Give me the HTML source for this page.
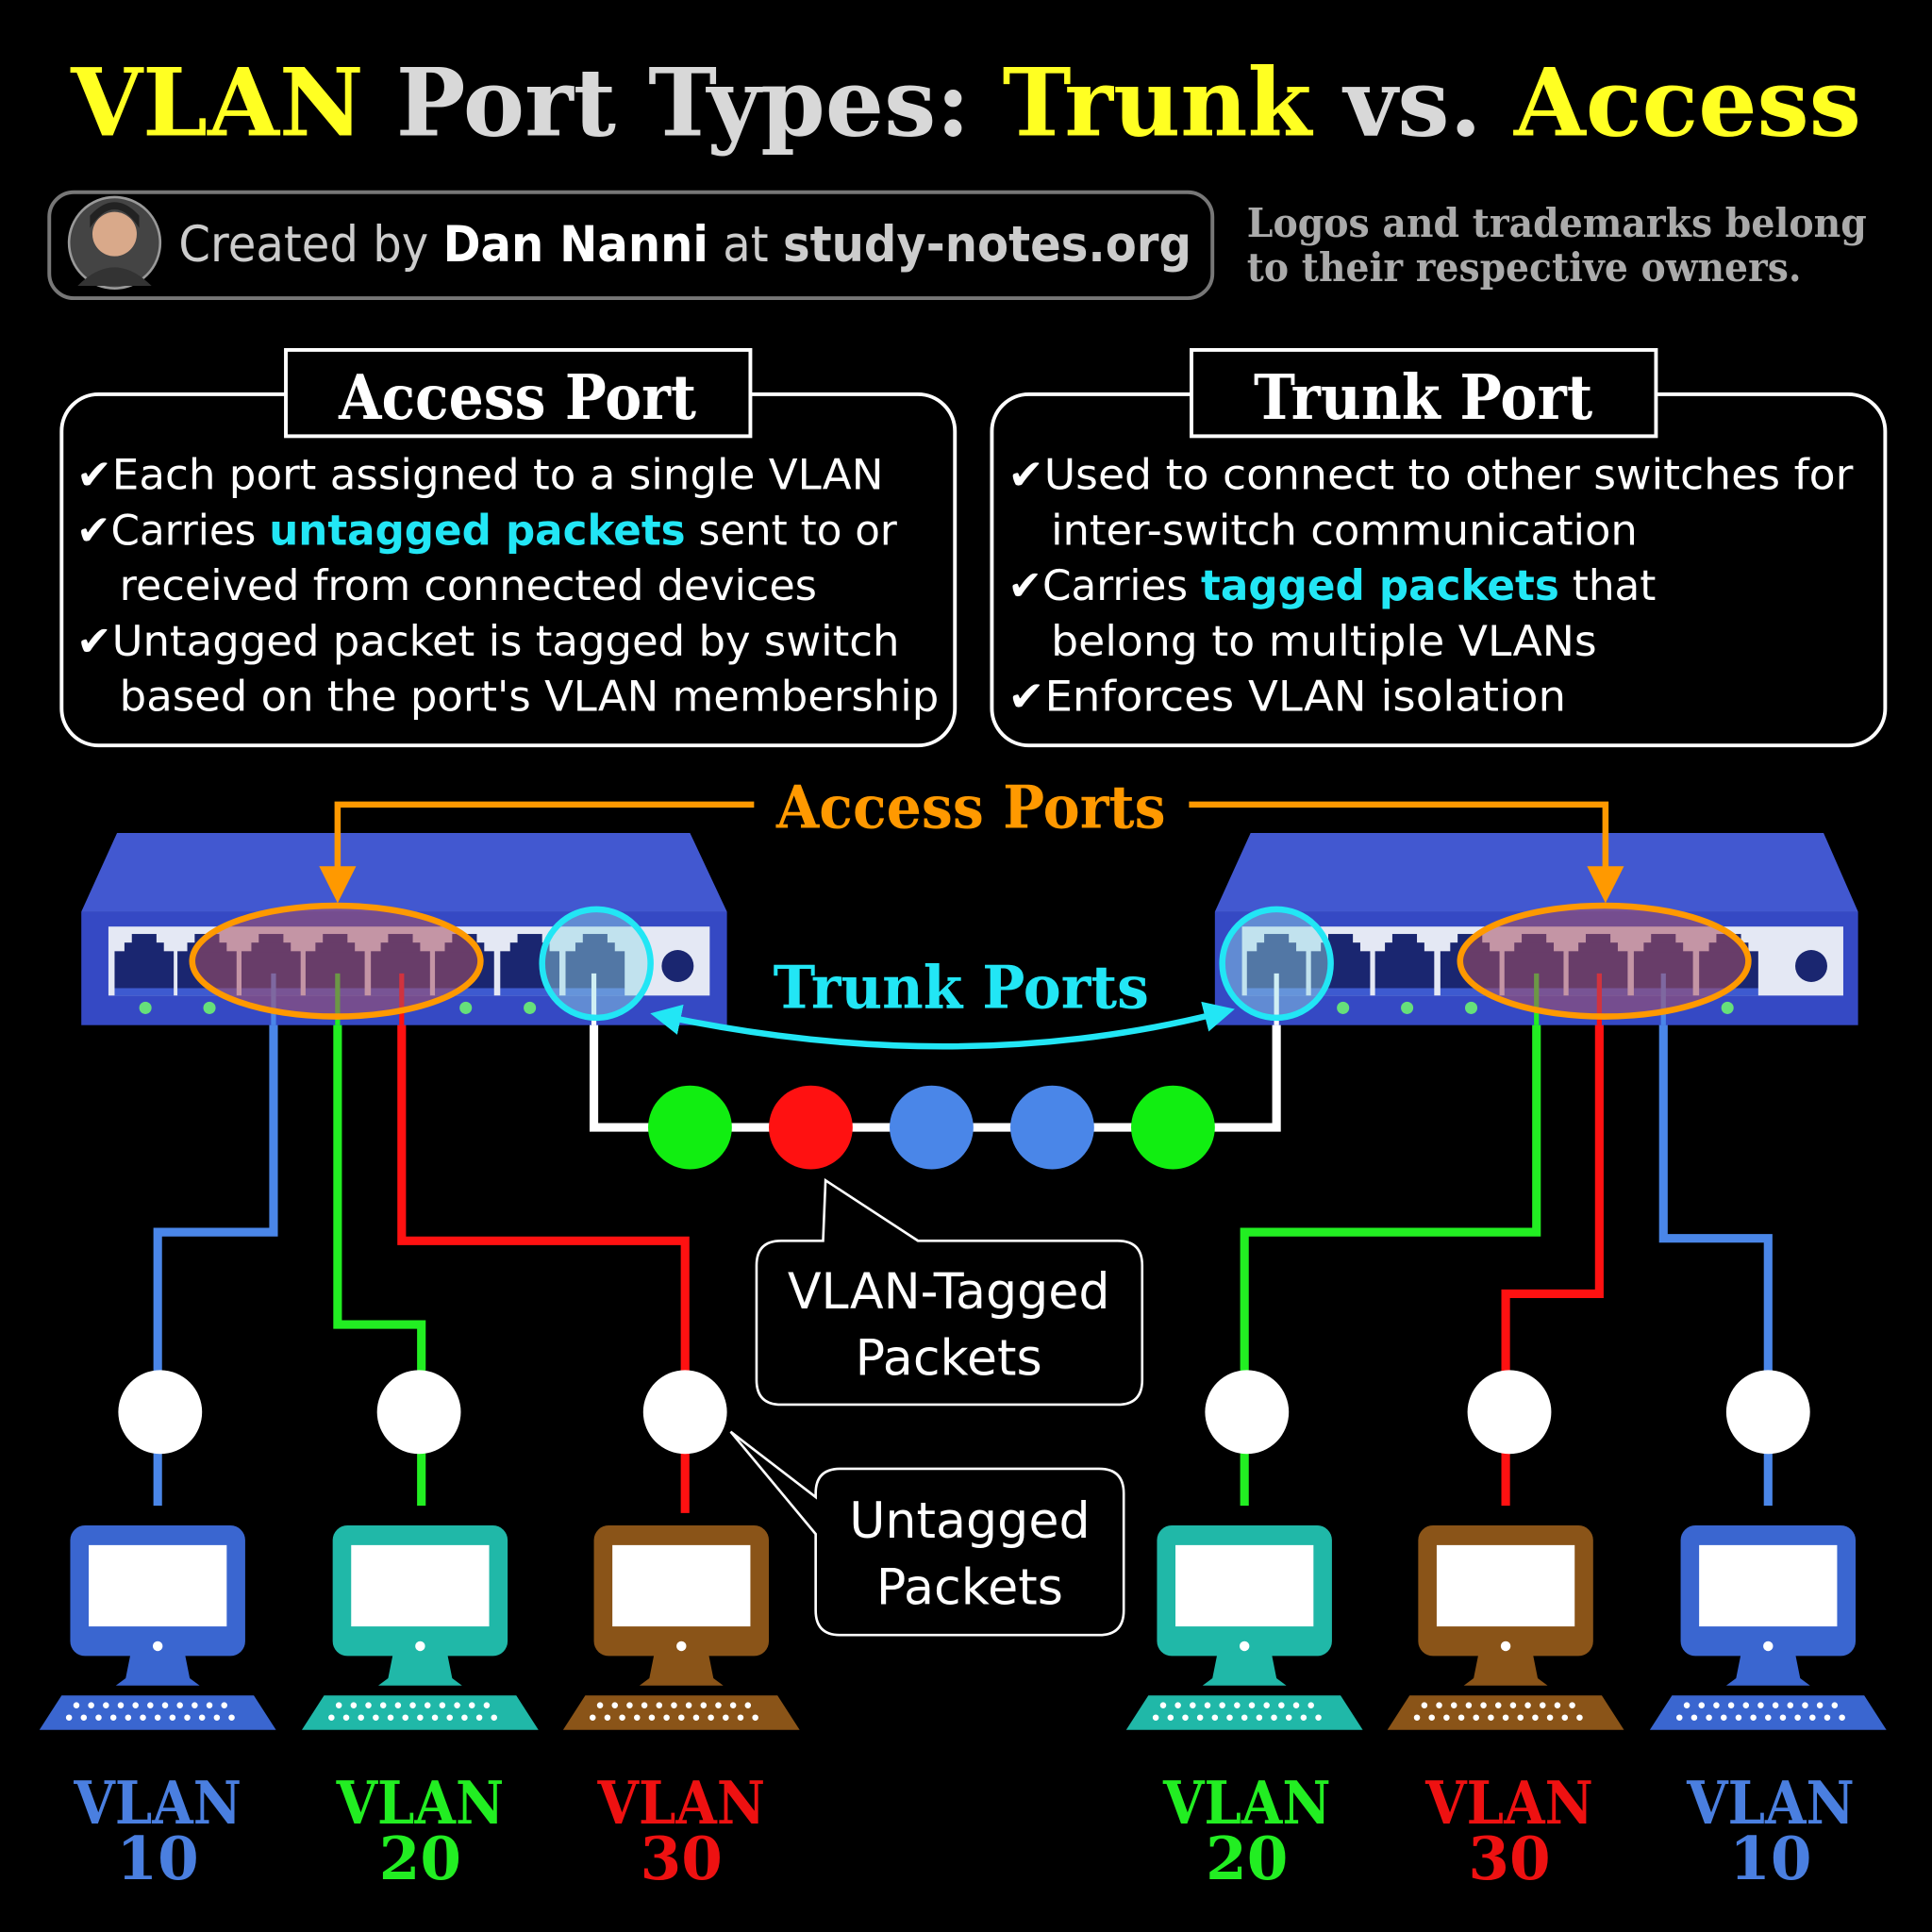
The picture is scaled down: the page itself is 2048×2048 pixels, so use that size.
<!DOCTYPE html>
<html><head><meta charset="utf-8"><style>html,body{margin:0;padding:0;background:#000}svg{display:block}</style></head><body>
<svg width="2048" height="2048" viewBox="0 0 1568 1568" xmlns="http://www.w3.org/2000/svg">
<rect width="1568" height="1568" fill="#000"/>
<defs>
<marker id="ao" markerWidth="6" markerHeight="6" refX="3" refY="3" orient="auto" markerUnits="strokeWidth"><path d="M0,0 L6,3 L0,6 Z" fill="#ff9900"/></marker>
<marker id="ac" markerWidth="5" markerHeight="5" refX="2.5" refY="2.5" orient="auto" markerUnits="strokeWidth"><path d="M0,0 L5,2.5 L0,5 Z" fill="#22e6f5"/></marker>
<marker id="acs" markerWidth="5" markerHeight="5" refX="2.5" refY="2.5" orient="auto-start-reverse" markerUnits="strokeWidth"><path d="M0,0 L5,2.5 L0,5 Z" fill="#22e6f5"/></marker>
<g id="port"><rect x="-24" y="-8" width="48" height="30" fill="#1a2670"/><rect x="-10" y="-22" width="20" height="8" fill="#1a2670"/><rect x="-16" y="-15" width="32" height="8" fill="#1a2670"/><rect x="-24" y="22" width="48" height="6" fill="#3d5ad0"/></g>
<g id="pcshape">
<rect x="-71" y="1238" width="142" height="106" rx="12"/>
<rect x="-56" y="1254" width="112" height="66" fill="#fff"/>
<circle cx="0" cy="1336" r="4" fill="#fff"/>
<path d="M-22,1342 L22,1342 L26,1362 L34,1368 L-34,1368 L-26,1362 Z"/>
<path d="M-78,1376 L78,1376 L96,1404 L-96,1404 Z"/>
<line x1="-66" y1="1384" x2="66" y2="1384" stroke="#fff" stroke-width="5" stroke-linecap="round" stroke-dasharray="0 12"/>
<line x1="-72" y1="1394" x2="72" y2="1394" stroke="#fff" stroke-width="5" stroke-linecap="round" stroke-dasharray="0 12"/>
</g>
</defs>
<style>
.t{font-family:"DejaVu Serif","Liberation Serif",serif;font-weight:bold}
.s{font-family:"DejaVu Sans","Liberation Sans",sans-serif}
</style>
<!-- title -->
<text x="784" y="110" text-anchor="middle" class="t" font-size="76" textLength="1453" lengthAdjust="spacingAndGlyphs"><tspan fill="#ffff22">VLAN</tspan><tspan fill="#d8d8d8"> Port Types: </tspan><tspan fill="#ffff22">Trunk</tspan><tspan fill="#d8d8d8"> vs. </tspan><tspan fill="#ffff22">Access</tspan></text>
<!-- credit -->
<rect x="40" y="156" width="944" height="86" rx="20" fill="#000" stroke="#777" stroke-width="3"/>
<circle cx="93" cy="197" r="37" fill="#444" stroke="#999" stroke-width="2"/>
<circle cx="93" cy="190" r="18" fill="#d9a98a"/>
<path d="M73,185 q20,-30 40,0 l0,-10 q-20,-22 -40,0z" fill="#222"/>
<path d="M63,232 q30,-30 60,0z" fill="#333"/>
<text x="145" y="212" class="s" font-size="40" fill="#ccc" textLength="822" lengthAdjust="spacingAndGlyphs">Created by <tspan fill="#fff" font-weight="bold">Dan Nanni</tspan> at <tspan font-weight="bold" fill="#ccc">study-notes.org</tspan></text>
<text x="1012" y="192" class="t" font-size="32" fill="#aaa" textLength="503" lengthAdjust="spacingAndGlyphs">Logos and trademarks belong</text>
<text x="1012" y="228" class="t" font-size="32" fill="#aaa" textLength="450" lengthAdjust="spacingAndGlyphs">to their respective owners.</text>
<!-- access box -->
<rect x="50" y="320" width="725" height="285" rx="30" fill="none" stroke="#fff" stroke-width="3"/>
<rect x="232" y="284" width="377" height="70" fill="#000" stroke="#fff" stroke-width="3"/>
<text x="420" y="340" text-anchor="middle" class="t" font-size="50" fill="#fff" textLength="290" lengthAdjust="spacingAndGlyphs">Access Port</text>
<g class="s" font-size="34" fill="#fff">
<text x="62" y="397" textLength="655" lengthAdjust="spacingAndGlyphs">✔Each port assigned to a single VLAN</text>
<text x="62" y="442" textLength="666" lengthAdjust="spacingAndGlyphs">✔Carries <tspan fill="#22e6f5" font-weight="bold">untagged packets</tspan> sent to or</text>
<text x="97" y="487" textLength="566" lengthAdjust="spacingAndGlyphs">received from connected devices</text>
<text x="62" y="532" textLength="668" lengthAdjust="spacingAndGlyphs">✔Untagged packet is tagged by switch</text>
<text x="97" y="577" textLength="665" lengthAdjust="spacingAndGlyphs">based on the port's VLAN membership</text>
</g>
<!-- trunk box -->
<rect x="805" y="320" width="725" height="285" rx="30" fill="none" stroke="#fff" stroke-width="3"/>
<rect x="967" y="284" width="377" height="70" fill="#000" stroke="#fff" stroke-width="3"/>
<text x="1155" y="340" text-anchor="middle" class="t" font-size="50" fill="#fff" textLength="275" lengthAdjust="spacingAndGlyphs">Trunk Port</text>
<g class="s" font-size="34" fill="#fff">
<text x="818" y="397" textLength="686" lengthAdjust="spacingAndGlyphs">✔Used to connect to other switches for</text>
<text x="853" y="442" textLength="476" lengthAdjust="spacingAndGlyphs">inter-switch communication</text>
<text x="818" y="487" textLength="526" lengthAdjust="spacingAndGlyphs">✔Carries <tspan fill="#22e6f5" font-weight="bold">tagged packets</tspan> that</text>
<text x="853" y="532" textLength="443" lengthAdjust="spacingAndGlyphs">belong to multiple VLANs</text>
<text x="818" y="577" textLength="453" lengthAdjust="spacingAndGlyphs">✔Enforces VLAN isolation</text>
</g>
<!-- access ports label -->
<text x="788" y="672" text-anchor="middle" class="t" font-size="48" fill="#ff9900" textLength="316" lengthAdjust="spacingAndGlyphs">Access Ports</text>
<!-- wires -->
<g fill="none" stroke-width="7">
<polyline points="222,790 222,1000 128,1000 128,1222" stroke="#4a86e8"/>
<polyline points="274,790 274,1075 342,1075 342,1222" stroke="#22ee22"/>
<polyline points="326,790 326,1007 556,1007 556,1228" stroke="#ff1111"/>
<polyline points="1247,790 1247,1000 1010,1000 1010,1222" stroke="#22ee22"/>
<polyline points="1298,790 1298,1050 1222,1050 1222,1222" stroke="#ff1111"/>
<polyline points="1350,790 1350,1005 1435,1005 1435,1222" stroke="#4a86e8"/>
<polyline points="482,790 482,915 1036,915 1036,790" stroke="#fff"/>
</g>
<!-- switches -->
<g>
<path d="M95,676 L560,676 L590,740 L66,740 Z" fill="#4258d0"/>
<rect x="66" y="740" width="524" height="92" fill="#3549c4"/>
<rect x="88" y="752" width="488" height="56" fill="#e4e8f4"/>
<g transform="translate(117,780)"><use href="#port"/></g><g transform="translate(168,780)"><use href="#port"/></g><g transform="translate(220,780)"><use href="#port"/></g><g transform="translate(272,780)"><use href="#port"/></g><g transform="translate(325,780)"><use href="#port"/></g><g transform="translate(377,780)"><use href="#port"/></g><g transform="translate(430,780)"><use href="#port"/></g><g transform="translate(483,780)"><use href="#port"/></g>
<circle cx="550" cy="784" r="13" fill="#1a2670"/>
<g fill="#66e07a"><circle cx="118" cy="818" r="5"/><circle cx="170" cy="818" r="5"/><circle cx="378" cy="818" r="5"/><circle cx="430" cy="818" r="5"/></g>
<g stroke-width="4"><line x1="222" y1="790" x2="222" y2="832" stroke="#4a86e8"/><line x1="274" y1="790" x2="274" y2="832" stroke="#22ee22"/><line x1="326" y1="790" x2="326" y2="832" stroke="#ff1111"/><line x1="482" y1="790" x2="482" y2="832" stroke="#fff"/></g>
<ellipse cx="273" cy="780" rx="117" ry="45" fill="rgba(170,80,100,0.55)" stroke="#ff9900" stroke-width="5"/>
<circle cx="484" cy="782" r="44" fill="rgba(150,220,230,0.45)" stroke="#22e6f5" stroke-width="5"/>
</g>
<g>
<path d="M1015,676 L1480,676 L1508,740 L986,740 Z" fill="#4258d0"/>
<rect x="986" y="740" width="522" height="92" fill="#3549c4"/>
<rect x="1008" y="752" width="488" height="56" fill="#e4e8f4"/>
<g transform="translate(1036,780)"><use href="#port"/></g><g transform="translate(1088,780)"><use href="#port"/></g><g transform="translate(1140,780)"><use href="#port"/></g><g transform="translate(1193,780)"><use href="#port"/></g><g transform="translate(1245,780)"><use href="#port"/></g><g transform="translate(1297,780)"><use href="#port"/></g><g transform="translate(1350,780)"><use href="#port"/></g><g transform="translate(1403,780)"><use href="#port"/></g>
<circle cx="1470" cy="784" r="13" fill="#1a2670"/>
<g fill="#66e07a"><circle cx="1090" cy="818" r="5"/><circle cx="1142" cy="818" r="5"/><circle cx="1194" cy="818" r="5"/><circle cx="1402" cy="818" r="5"/></g>
<g stroke-width="4"><line x1="1247" y1="790" x2="1247" y2="832" stroke="#22ee22"/><line x1="1298" y1="790" x2="1298" y2="832" stroke="#ff1111"/><line x1="1350" y1="790" x2="1350" y2="832" stroke="#4a86e8"/><line x1="1036" y1="790" x2="1036" y2="832" stroke="#fff"/></g>
<ellipse cx="1302" cy="780" rx="117" ry="45" fill="rgba(170,80,100,0.55)" stroke="#ff9900" stroke-width="5"/>
<circle cx="1036" cy="782" r="44" fill="rgba(150,220,230,0.45)" stroke="#22e6f5" stroke-width="5"/>
</g>
<!-- orange arrows (on top) -->
<polyline points="612,653 274,653 274,718" fill="none" stroke="#ff9900" stroke-width="5" marker-end="url(#ao)"/>
<polyline points="965,653 1303,653 1303,718" fill="none" stroke="#ff9900" stroke-width="5" marker-end="url(#ao)"/>
<!-- trunk label & arrow -->
<text x="780" y="818" text-anchor="middle" class="t" font-size="48" fill="#22e6f5" textLength="305" lengthAdjust="spacingAndGlyphs">Trunk Ports</text>
<path d="M540,825 Q780,875 990,822" fill="none" stroke="#22e6f5" stroke-width="5" marker-start="url(#acs)" marker-end="url(#ac)"/>
<!-- packets -->
<circle cx="560" cy="915" r="34" fill="#11ee11"/>
<circle cx="658" cy="915" r="34" fill="#ff1111"/>
<circle cx="756" cy="915" r="34" fill="#4a86e8"/>
<circle cx="854" cy="915" r="34" fill="#4a86e8"/>
<circle cx="952" cy="915" r="34" fill="#11ee11"/>
<!-- callouts -->
<path d="M634,1007 L668,1007 L670,958 L745,1007 L907,1007 Q927,1007 927,1027 L927,1120 Q927,1140 907,1140 L634,1140 Q614,1140 614,1120 L614,1027 Q614,1007 634,1007 Z" fill="#000" stroke="#fff" stroke-width="2"/>
<text x="770" y="1062" text-anchor="middle" class="s" font-size="40" fill="#fff">VLAN-Tagged</text>
<text x="770" y="1116" text-anchor="middle" class="s" font-size="40" fill="#fff">Packets</text>
<path d="M682,1192 L892,1192 Q912,1192 912,1212 L912,1307 Q912,1327 892,1327 L682,1327 Q662,1327 662,1307 L662,1245 L593,1162 L662,1215 L662,1212 Q662,1192 682,1192 Z" fill="#000" stroke="#fff" stroke-width="2"/>
<text x="787" y="1248" text-anchor="middle" class="s" font-size="40" fill="#fff">Untagged</text>
<text x="787" y="1302" text-anchor="middle" class="s" font-size="40" fill="#fff">Packets</text>
<!-- white dots -->
<g fill="#fff"><circle cx="130" cy="1146" r="34"/><circle cx="340" cy="1146" r="34"/><circle cx="556" cy="1146" r="34"/><circle cx="1012" cy="1146" r="34"/><circle cx="1225" cy="1146" r="34"/><circle cx="1435" cy="1146" r="34"/></g>
<!-- computers -->
<use href="#pcshape" transform="translate(128,0)" fill="#3a66d0"/>
<use href="#pcshape" transform="translate(341,0)" fill="#20b8a8"/>
<use href="#pcshape" transform="translate(553,0)" fill="#8a5418"/>
<use href="#pcshape" transform="translate(1010,0)" fill="#20b8a8"/>
<use href="#pcshape" transform="translate(1222,0)" fill="#8a5418"/>
<use href="#pcshape" transform="translate(1435,0)" fill="#3a66d0"/>
<!-- labels -->
<g class="t" font-size="48" text-anchor="middle">
<text x="128" y="1480" fill="#4a7fe0" textLength="136" lengthAdjust="spacingAndGlyphs">VLAN</text><text x="128" y="1525" fill="#4a7fe0">10</text>
<text x="341" y="1480" fill="#22ee22" textLength="136" lengthAdjust="spacingAndGlyphs">VLAN</text><text x="341" y="1525" fill="#22ee22">20</text>
<text x="553" y="1480" fill="#ee1111" textLength="136" lengthAdjust="spacingAndGlyphs">VLAN</text><text x="553" y="1525" fill="#ee1111">30</text>
<text x="1012" y="1480" fill="#22ee22" textLength="136" lengthAdjust="spacingAndGlyphs">VLAN</text><text x="1012" y="1525" fill="#22ee22">20</text>
<text x="1225" y="1480" fill="#ee1111" textLength="136" lengthAdjust="spacingAndGlyphs">VLAN</text><text x="1225" y="1525" fill="#ee1111">30</text>
<text x="1437" y="1480" fill="#4a7fe0" textLength="136" lengthAdjust="spacingAndGlyphs">VLAN</text><text x="1437" y="1525" fill="#4a7fe0">10</text>
</g>
</svg>
</body></html>
